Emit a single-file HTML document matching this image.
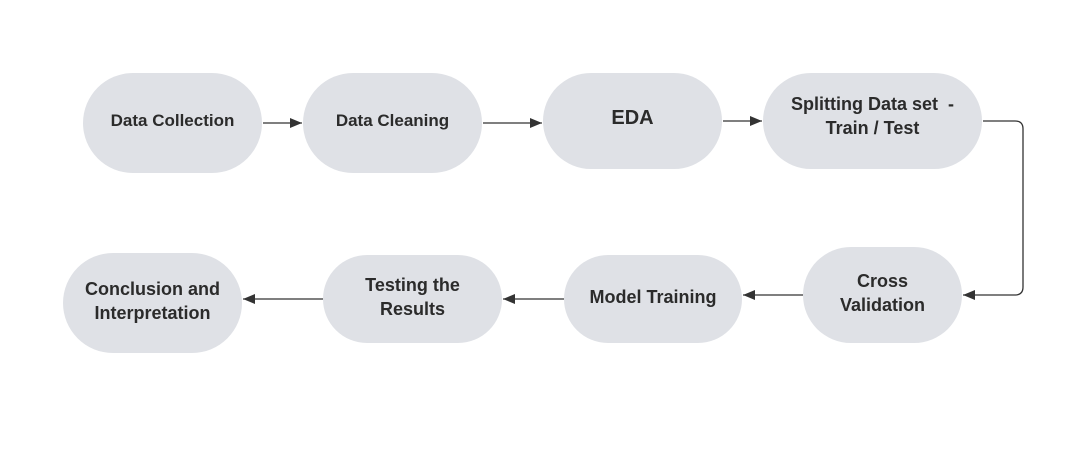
<!DOCTYPE html>
<html><head><style>
body{margin:0;background:#fff;}
.n{position:absolute;background:#dfe1e6;display:flex;align-items:center;justify-content:center;text-align:center;font-family:"Liberation Sans",sans-serif;font-weight:bold;color:#2b2b2b;line-height:24px;box-sizing:border-box;}
</style></head><body>
<div style="position:relative;width:1090px;height:451px;overflow:hidden">
<svg width="1090" height="451" style="position:absolute;left:0;top:0">
<defs><marker id="a" markerWidth="12" markerHeight="10" refX="12" refY="5" orient="auto" markerUnits="userSpaceOnUse"><path d="M0,0 L12,5 L0,10z" fill="#333"/></marker></defs>
<g stroke="#333" stroke-width="1.3" fill="none" marker-end="url(#a)">
<path d="M263,123 H302"/>
<path d="M483,123 H542"/>
<path d="M723,121 H762"/>
<path d="M983,121 H1015 Q1023,121 1023,129 V287 Q1023,295 1015,295 H963"/>
<path d="M803,295 H743"/>
<path d="M564,299 H503"/>
<path d="M323,299 H243"/>
</g></svg>
<div class="n" style="left:83px;top:73px;width:179px;height:100px;border-radius:50px;font-size:17px;padding-bottom:4px">Data Collection</div>
<div class="n" style="left:303px;top:73px;width:179px;height:100px;border-radius:50px;font-size:17px;padding-bottom:4px">Data Cleaning</div>
<div class="n" style="left:543px;top:73px;width:179px;height:96px;border-radius:48px;font-size:20px;padding-bottom:6px">EDA</div>
<div class="n" style="left:763px;top:73px;width:219px;height:96px;border-radius:48px;font-size:18px;padding-bottom:10px">Splitting Data set&nbsp; -<br>Train / Test</div>
<div class="n" style="left:803px;top:247px;width:159px;height:96px;border-radius:48px;font-size:18px;padding-bottom:4px">Cross<br>Validation</div>
<div class="n" style="left:564px;top:255px;width:178px;height:88px;border-radius:44px;font-size:18px;padding-bottom:4px">Model Training</div>
<div class="n" style="left:323px;top:255px;width:179px;height:88px;border-radius:44px;font-size:18px;padding-bottom:4px">Testing the<br>Results</div>
<div class="n" style="left:63px;top:253px;width:179px;height:100px;border-radius:50px;font-size:18px;padding-bottom:4px">Conclusion and<br>Interpretation</div>
</div>
</body></html>
